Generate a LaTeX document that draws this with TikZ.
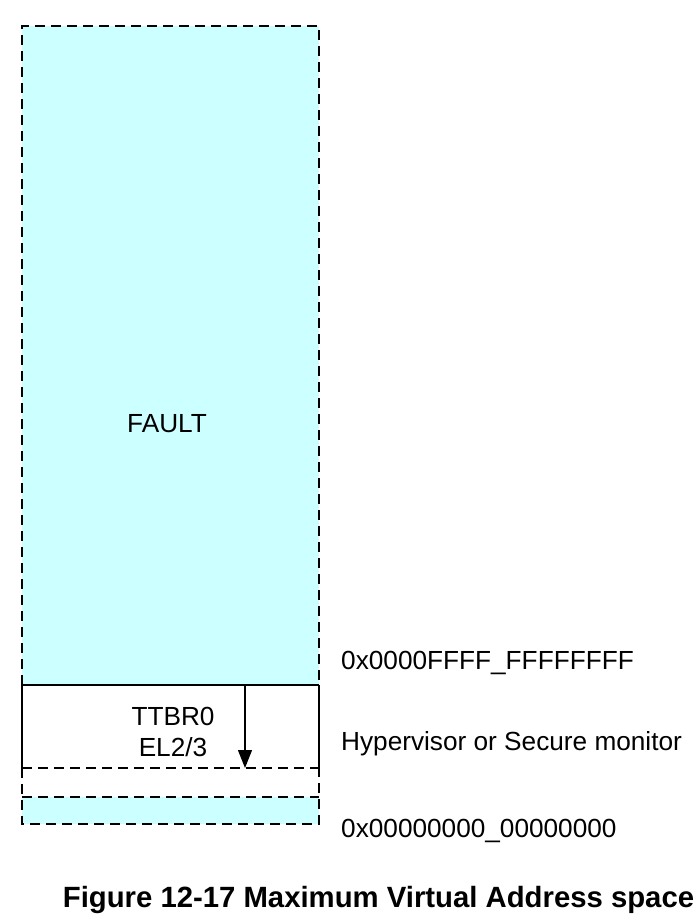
\documentclass[tikz,border=0pt]{standalone}
\usepackage{fontspec}
\setmainfont{Liberation Sans}
\usetikzlibrary{arrows.meta}
\definecolor{faultcyan}{RGB}{204,255,255}
\begin{document}
\begin{tikzpicture}[x=1pt,y=-1pt,
  lbl/.style={font=\fontsize{26.2}{31}\selectfont, inner sep=0pt},
  captext/.style={font=\bfseries\fontsize{29.3}{34}\selectfont, inner sep=0pt},
  dline/.style={line width=1.3pt, dash pattern=on 10pt off 6pt},
  sline/.style={line width=1.3pt},
  arr/.style={line width=1.3pt, -{Triangle[length=18pt,width=14pt]}}]
\useasboundingbox (0,0) rectangle (700,924);
% fills
\fill[faultcyan] (22,26) rectangle (319,685);
\fill[faultcyan] (22,797) rectangle (319,824);
% outlines
\draw[dline] (22,685) -- (22,26) -- (319,26) -- (319,685);
\draw[sline] (22,685) -- (319,685);
\draw[sline] (22,685) -- (22,768);
\draw[sline] (319,685) -- (319,768);
\draw[dline] (22,768) -- (319,768);
\draw[dline] (22,797) -- (319,797);
\draw[dline] (22,768) -- (22,824) -- (319,824) -- (319,768);
% arrow
\coordinate (arrS) at (245,685);
\coordinate (arrE) at (245,768);
\draw[arr] (arrS) -- (arrE);
% texts
\node[lbl, anchor=base] (fault) at (167,432) {FAULT};
\node[lbl, anchor=base] (ttbr) at (173,725) {TTBR0};
\node[lbl, anchor=base] (el) at (173,756) {EL2/3};
\node[lbl, anchor=base west] (top) at (341,669) {0x0000FFFF\_FFFFFFFF};
\node[lbl, anchor=base west] (hyp) at (341,750) {Hypervisor or Secure monitor};
\node[lbl, anchor=base west] (bot) at (341,837) {0x00000000\_00000000};
\node[captext, anchor=base] (caption) at (378.5,907) {Figure 12-17 Maximum Virtual Address space};
\end{tikzpicture}
\end{document}
